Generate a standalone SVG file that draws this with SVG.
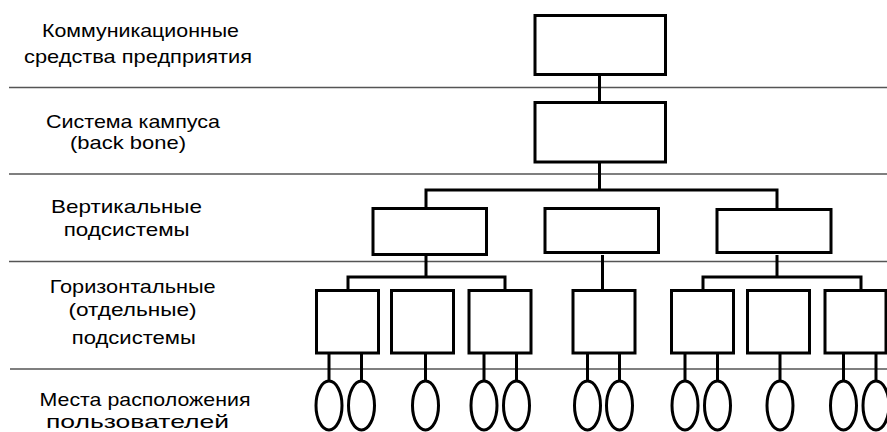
<svg xmlns="http://www.w3.org/2000/svg" width="887" height="432" viewBox="0 0 887 432">
<style>
.lbl{font-family:"Liberation Sans",Arial,sans-serif;font-size:19px;fill:#000;text-anchor:middle}
.sep{stroke:#555;stroke-width:1.5;fill:none}
.box{fill:#fff;stroke:#000;stroke-width:3}
.ell{fill:#fff;stroke:#000;stroke-width:3}
.con{stroke:#000;stroke-width:3;fill:none}
</style>
<rect width="887" height="432" fill="#fff"/>
<g id="separators">
<line class="sep" x1="9" y1="87.5" x2="887" y2="87.5"/>
<line class="sep" x1="9" y1="174" x2="887" y2="174"/>
<line class="sep" x1="9" y1="261.5" x2="887" y2="261.5"/>
<line class="sep" x1="10" y1="369" x2="887" y2="369"/>
</g>
<g id="labels">
<text class="lbl" x="140.5" y="37" textLength="197" lengthAdjust="spacingAndGlyphs">Коммуникационные</text>
<text class="lbl" x="138" y="63" textLength="228" lengthAdjust="spacingAndGlyphs">средства предприятия</text>
<text class="lbl" x="133" y="128" textLength="174" lengthAdjust="spacingAndGlyphs">Система кампуса</text>
<text class="lbl" x="128" y="149" textLength="116" lengthAdjust="spacingAndGlyphs">(back bone)</text>
<text class="lbl" x="126.5" y="213" textLength="151" lengthAdjust="spacingAndGlyphs">Вертикальные</text>
<text class="lbl" x="126.7" y="236" textLength="126" lengthAdjust="spacingAndGlyphs">подсистемы</text>
<text class="lbl" x="132.7" y="293" textLength="166" lengthAdjust="spacingAndGlyphs">Горизонтальные</text>
<text class="lbl" x="132.5" y="316" textLength="128" lengthAdjust="spacingAndGlyphs">(отдельные)</text>
<text class="lbl" x="133.8" y="344" textLength="124" lengthAdjust="spacingAndGlyphs">подсистемы</text>
<text class="lbl" x="145" y="406" textLength="211" lengthAdjust="spacingAndGlyphs">Места расположения</text>
<text class="lbl" x="137.5" y="428" textLength="183" lengthAdjust="spacingAndGlyphs">пользователей</text>
</g>
<g id="connectors">
<path class="con" d="M599.5 75V102"/>
<path class="con" d="M599.5 163V190"/>
<path class="con" d="M426 208V190H777V208"/>
<path class="con" d="M426 255V277M348 290V277H505V290"/>
<path class="con" d="M602.5 255V290"/>
<path class="con" d="M777 255V277M703 290V277H861V290"/>
<path class="con" d="M329 354V381M361.5 354V381M425.5 354V381M484 354V381M516.5 354V381M587.5 354V381M619.5 354V381M685 354V381M717.5 354V381M780 354V381M843.5 354V381M876 354V381"/>
</g>
<g id="n-enterprise"><rect class="box" x="535" y="15.5" width="130.5" height="59"/></g>
<g id="n-campus"><rect class="box" x="535" y="102.5" width="130.5" height="59.5"/></g>
<g id="n-v1"><rect class="box" x="373" y="208.5" width="113.5" height="46"/></g>
<g id="n-v2"><rect class="box" x="545" y="208.5" width="113.5" height="44"/></g>
<g id="n-v3"><rect class="box" x="717" y="209.5" width="114" height="43"/></g>
<g id="n-h1"><rect class="box" x="316.5" y="290.5" width="62" height="62.5"/></g>
<g id="n-h2"><rect class="box" x="391.5" y="290.5" width="62" height="62.5"/></g>
<g id="n-h3"><rect class="box" x="469" y="290.5" width="62" height="62.5"/></g>
<g id="n-h4"><rect class="box" x="573" y="290.5" width="62" height="62.5"/></g>
<g id="n-h5"><rect class="box" x="671.5" y="290.5" width="62" height="62.5"/></g>
<g id="n-h6"><rect class="box" x="747.5" y="290.5" width="62" height="62.5"/></g>
<g id="n-h7"><rect class="box" x="825" y="290.5" width="61" height="62.5"/></g>
<g id="n-u1"><ellipse class="ell" cx="329" cy="405.5" rx="13" ry="24.5"/></g>
<g id="n-u2"><ellipse class="ell" cx="361.5" cy="405.5" rx="13" ry="24.5"/></g>
<g id="n-u3"><ellipse class="ell" cx="425.5" cy="405.5" rx="13" ry="24.5"/></g>
<g id="n-u4"><ellipse class="ell" cx="484" cy="405.5" rx="13" ry="24.5"/></g>
<g id="n-u5"><ellipse class="ell" cx="516.5" cy="405.5" rx="13" ry="24.5"/></g>
<g id="n-u6"><ellipse class="ell" cx="587.5" cy="405.5" rx="13" ry="24.5"/></g>
<g id="n-u7"><ellipse class="ell" cx="619.5" cy="405.5" rx="13" ry="24.5"/></g>
<g id="n-u8"><ellipse class="ell" cx="685" cy="405.5" rx="13" ry="24.5"/></g>
<g id="n-u9"><ellipse class="ell" cx="717.5" cy="405.5" rx="13" ry="24.5"/></g>
<g id="n-u10"><ellipse class="ell" cx="780" cy="405.5" rx="13" ry="24.5"/></g>
<g id="n-u11"><ellipse class="ell" cx="843.5" cy="405.5" rx="13" ry="24.5"/></g>
<g id="n-u12"><ellipse class="ell" cx="876" cy="405.5" rx="13" ry="24.5"/></g>
</svg>
